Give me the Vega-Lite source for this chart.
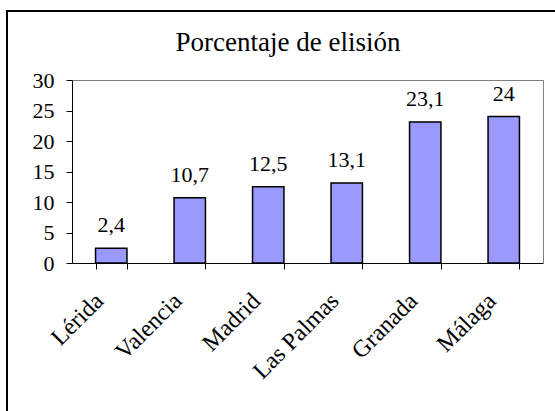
{
  "$schema": "https://vega.github.io/schema/vega-lite/v6.json",
  "width": 562,
  "height": 420,
  "autosize": "none",
  "padding": {"left": 7, "top": 11, "right": 0, "bottom": 0},
  "background": "white",
  "config": {
    "view": {"stroke": "black", "strokeWidth": 2, "fill": "white"},
    "axis": {"grid": false, "labelFont": "Liberation Serif", "labelFontSize": 22, "labelColor": "black", "titleFont": "Liberation Serif"},
    "text": {"font": "Liberation Serif"}
  },
  "title": {
    "text": "Porcentaje de elisión",
    "font": "Liberation Serif",
    "fontSize": 27,
    "fontWeight": "normal",
    "color": "black",
    "anchor": "middle",
    "frame": "group",
    "baseline": "alphabetic",
    "offset": -67
  },
  "data": {
    "values": [
      {"ciudad": "Lérida", "valor": 2.4, "etiqueta": "2,4"},
      {"ciudad": "Valencia", "valor": 10.7, "etiqueta": "10,7"},
      {"ciudad": "Madrid", "valor": 12.5, "etiqueta": "12,5"},
      {"ciudad": "Las Palmas", "valor": 13.1, "etiqueta": "13,1"},
      {"ciudad": "Granada", "valor": 23.1, "etiqueta": "23,1"},
      {"ciudad": "Málaga", "valor": 24, "etiqueta": "24"}
    ]
  },
  "layer": [
    {
      "mark": {"type": "bar", "fill": "#9999FF", "stroke": "black", "strokeWidth": 1.5},
      "encoding": {
        "x": {
          "field": "ciudad", "type": "nominal", "sort": null,
          "scale": {"range": [65, 536], "paddingInner": 0.6, "paddingOuter": 0.3},
          "axis": {
            "orient": "bottom", "offset": -168, "title": null,
            "domainColor": "black", "domainWidth": 1,
            "tickColor": "black", "tickSize": 6, "tickBand": "extent",
            "labelAngle": -45, "labelAlign": "right", "labelBaseline": "middle",
            "labelFont": "Liberation Serif", "labelFontSize": 24, "labelColor": "black",
            "labelPadding": 28, "labelOffset": -12
          }
        },
        "y": {
          "field": "valor", "type": "quantitative",
          "scale": {"domain": [0, 30], "range": [252, 69], "nice": false, "zero": true},
          "axis": {
            "orient": "left", "offset": -65, "title": null,
            "values": [0, 5, 10, 15, 20, 25, 30],
            "domainColor": "black", "domainWidth": 1,
            "tickColor": "black", "tickSize": 6,
            "labelFont": "Liberation Serif", "labelFontSize": 22, "labelColor": "black",
            "labelPadding": 12
          }
        }
      }
    },
    {
      "mark": {"type": "text", "baseline": "alphabetic", "align": "center", "dy": -16, "fontSize": 22, "color": "black", "font": "Liberation Serif"},
      "encoding": {
        "x": {
          "field": "ciudad", "type": "nominal", "sort": null,
          "axis": {"orient": "top", "offset": -69, "title": null, "labels": false, "ticks": false, "domainColor": "#808080", "domainWidth": 1}
        },
        "y": {
          "field": "valor", "type": "quantitative",
          "axis": {"orient": "right", "offset": -26, "title": null, "labels": false, "ticks": false, "domainColor": "#808080", "domainWidth": 1}
        },
        "text": {"field": "etiqueta", "type": "nominal"}
      }
    }
  ],
  "resolve": {"axis": {"x": "independent", "y": "independent"}}
}
